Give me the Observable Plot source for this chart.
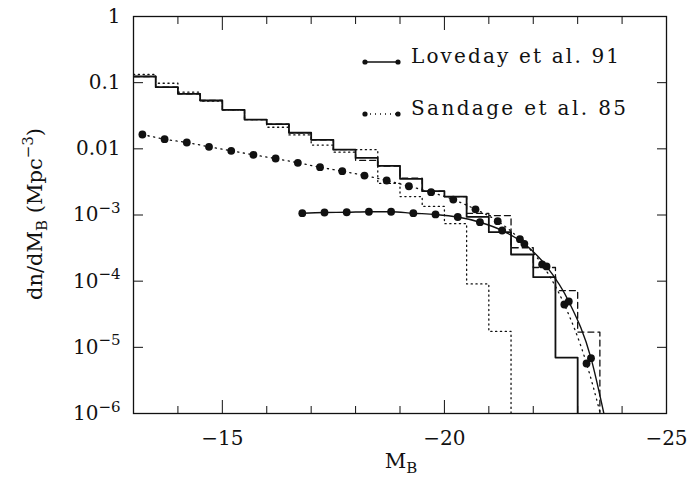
<!DOCTYPE html>
<html><head><meta charset="utf-8">
<script src="https://cdn.jsdelivr.net/npm/d3@7"></script>
<script src="https://cdn.jsdelivr.net/npm/@observablehq/plot@0.6"></script>
<style>
body{margin:0;background:#fff;}
#chart{width:700px;height:502px;}
svg{font-family:"DejaVu Serif",serif;}
</style></head><body><div id="chart"></div>
<script>
// ---- data ----
const binEdges = [-13,-13.5,-14,-14.5,-15,-15.5,-16,-16.5,-17,-17.5,-18,-18.5,-19,-19.5,-20,-20.5,-21,-21.5,-22,-22.5,-23,-23.5,-24];
const solidHist  = [0.124,0.0854,0.0679,0.0538,0.0389,0.0277,0.0237,0.0175,0.0137,0.0097,0.0073,0.00554,0.00352,0.00229,0.0019,0.00094,0.00055,0.000253,0.000115,0.000007];
const dashedHist = [0.124,0.0854,0.0679,0.0538,0.0389,0.0277,0.0237,0.0175,0.0137,0.0097,0.0067,0.0055,0.0036,0.0023,0.0019,0.00106,0.00098,0.00032,0.000161,0.000072,0.000017];
const dottedHist = [0.133,0.098,0.0718,0.0525,0.039,0.0277,0.0212,0.0162,0.0114,0.0089,0.0097,0.0030,0.0019,0.00135,0.00074,0.000091,0.0000174];

const sandageM = [-13.2,-13.7,-14.2,-14.7,-15.2,-15.7,-16.2,-16.7,-17.2,-17.7,-18.2,-18.7,-19.2,-19.7,-20.2,-20.7,-21.2,-21.7,-22.2,-22.7,-23.2];
const sandageV = [0.01647,0.0140,0.01247,0.01074,0.00934,0.00812,0.00714,0.00615,0.00528,0.00459,0.00395,0.00332,0.00272,0.00221,0.00171,0.00122,0.000806,0.000431,0.000179,0.0000444,0.0000057];
const sandageEnd = {m: -23.51, v: 1e-6};

const lovedayM = [-16.8,-17.3,-17.8,-18.3,-18.8,-19.3,-19.8,-20.3,-20.8,-21.3,-21.8,-22.3,-22.8,-23.3];
const lovedayV = [1.064e-3,1.09e-3,1.10e-3,1.12e-3,1.12e-3,1.064e-3,1.02e-3,9.33e-4,7.78e-4,5.83e-4,3.67e-4,1.67e-4,4.93e-5,6.86e-6];
const lovedayEnd = {m: -23.59, v: 1e-6};

const xMinorTicks = [-13,-14,-16,-17,-18,-19,-21,-22,-23,-24];
const xMajorTicks = [-15,-20,-25];
const yTicks = [1,0.1,0.01,1e-3,1e-4,1e-5,1e-6];
const yTickLabels = ["1","0.1","0.01","10^−3","10^−4","10^−5","10^−6"];
const legendLabels = ["Loveday et al. 91","Sandage et al. 85"];

const yFloor = 1e-6;
function steps(vals){
  const pts = vals.map((v,i)=>({m: binEdges[i], v}));
  pts.push({m: binEdges[vals.length], v: yFloor});
  return pts;
}
const sandage = sandageM.map((m,i)=>({m, v: sandageV[i]}));
const loveday = lovedayM.map((m,i)=>({m, v: lovedayV[i]}));

const ink = "#111";
const noText = () => null;
const plot = Plot.plot({
  width: 700, height: 502,
  marginLeft: 133, marginRight: 34, marginTop: 16, marginBottom: 89,
  style: {fontFamily: "DejaVu Serif", fontSize: "20px", background: "white", color: ink, overflow: "visible"},
  x: {domain: [-13, -25]},
  y: {type: "log", domain: [1e-6, 1]},
  marks: [
    // histograms
    Plot.line(steps(dottedHist), {x:"m", y:"v", curve:"step-after", stroke: ink, strokeWidth: 1.3, strokeDasharray: "1.2,3.6", clip: true}),
    Plot.line(steps(dashedHist), {x:"m", y:"v", curve:"step-after", stroke: ink, strokeWidth: 1.3, strokeDasharray: "6,4", clip: true}),
    Plot.line(steps(solidHist), {x:"m", y:"v", curve:"step-after", stroke: ink, strokeWidth: 1.8, clip: true}),
    // fits
    Plot.line([...sandage, sandageEnd], {x:"m", y:"v", curve:"monotone-x", stroke: ink, strokeWidth: 1.3, strokeDasharray: "1.2,4.5", clip: true}),
    Plot.line([...loveday, lovedayEnd], {x:"m", y:"v", curve:"monotone-x", stroke: ink, strokeWidth: 1.4, clip: true}),
    Plot.dot(sandage, {x:"m", y:"v", r: 3.9, fill: ink, stroke: "none"}),
    Plot.dot(loveday, {x:"m", y:"v", r: 3.9, fill: ink, stroke: "none"}),
    // frame and inward ticks
    Plot.frame({stroke: ink, strokeWidth: 1.3}),
    Plot.axisX({ticks: xMinorTicks, anchor: "bottom", tickSize: 7, dy: -7, tickFormat: noText, label: null, stroke: ink}),
    Plot.axisX({ticks: xMajorTicks, anchor: "bottom", tickSize: 13, dy: -13, tickFormat: noText, label: null, stroke: ink}),
    Plot.axisX({ticks: xMinorTicks, anchor: "top", tickSize: 7, dy: 7, tickFormat: noText, label: null, stroke: ink}),
    Plot.axisX({ticks: xMajorTicks, anchor: "top", tickSize: 13, dy: 13, tickFormat: noText, label: null, stroke: ink}),
    Plot.axisX({ticks: xMajorTicks, anchor: "bottom", tickSize: 0, tickPadding: 17, fontSize: 20, fill: ink, label: null}),
    Plot.axisY({ticks: yTicks, anchor: "left", tickSize: 10, dx: 10, tickFormat: noText, label: null, stroke: ink}),
    Plot.axisY({ticks: yTicks, anchor: "right", tickSize: 10, dx: -10, tickFormat: noText, label: null, stroke: ink}),
    Plot.axisY({ticks: yTicks, anchor: "left", tickSize: 0, tickPadding: 13, fontSize: 20, fill: ink, label: null,
      tickFormat: d => yTickLabels[yTicks.indexOf(d)]})
  ]
});
document.getElementById("chart").appendChild(plot);

const svg = d3.select(plot);
// superscripts on y tick labels
svg.selectAll("text").each(function(){
  const t = d3.select(this);
  if (this.childElementCount === 0 && this.textContent.includes("^")) {
    const [base, exp] = this.textContent.split("^");
    t.text(base);
    t.append("tspan").attr("dy", "-0.55em").attr("font-size", "15px").text(exp);
  }
});
// axis titles
const yl = svg.append("text")
  .attr("transform", "translate(42,214) rotate(-90)")
  .attr("text-anchor", "middle").attr("font-size", 21).attr("fill", ink);
yl.append("tspan").text("dn/dM");
yl.append("tspan").attr("font-size", 15).attr("dy", 5).text("B");
yl.append("tspan").attr("dy", -5).text("\u00a0(Mpc");
yl.append("tspan").attr("font-size", 15).attr("dy", -9).text("−3");
yl.append("tspan").attr("dy", 9).text(")");

const xl = svg.append("text")
  .attr("x", 401).attr("y", 468)
  .attr("text-anchor", "middle").attr("font-size", 21).attr("fill", ink);
xl.append("tspan").text("M");
xl.append("tspan").attr("font-size", 15).attr("dy", 5).text("B");

// legend
const lg = svg.append("g").attr("fill", ink).attr("stroke", ink);
[[63, null, 208], [115, "1,4", 215]].forEach(([y, dash, w], i) => {
  lg.append("line").attr("x1", 365).attr("x2", 398).attr("y1", y - 1).attr("y2", y - 1)
    .attr("stroke-width", 1.4).attr("stroke-dasharray", dash);
  lg.append("circle").attr("cx", 365).attr("cy", y - 1).attr("r", 2.6).attr("stroke", "none");
  lg.append("circle").attr("cx", 398).attr("cy", y - 1).attr("r", 2.6).attr("stroke", "none");
  lg.append("text").attr("x", 411).attr("y", y).attr("font-size", 20).attr("stroke", "none")
    .attr("text-anchor", "start")
    .attr("textLength", w).attr("lengthAdjust", "spacing").text(legendLabels[i]);
});
</script>
</body></html>
